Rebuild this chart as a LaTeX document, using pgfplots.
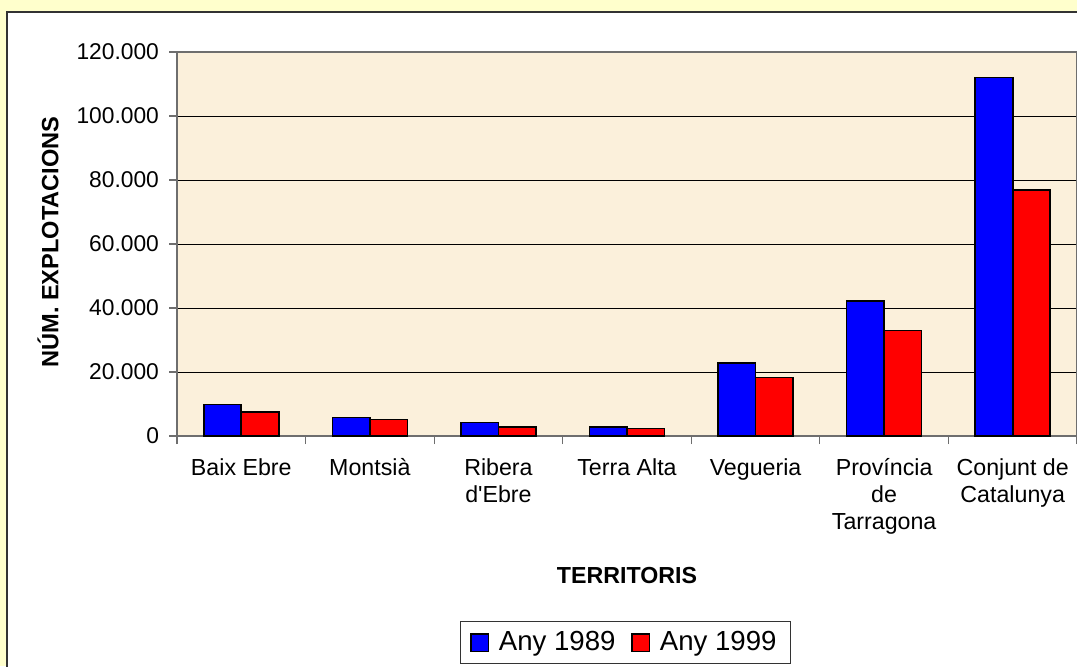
\documentclass[border=0pt]{standalone}
\usepackage{fontspec}
\setmainfont{Liberation Sans}
\usepackage{pgfplots}
\pgfplotsset{compat=1.18}

\definecolor{bgyellow}{RGB}{255,255,204}
\definecolor{plotbg}{RGB}{251,240,219}
\definecolor{framegray}{RGB}{110,110,110}
\definecolor{barblue}{RGB}{0,0,255}
\definecolor{barred}{RGB}{255,0,0}

\begin{document}
\begin{tikzpicture}
\useasboundingbox (0,0) rectangle (538.5pt,333pt);
\fill[bgyellow] (0,0) rectangle (538.5pt,333pt);
\begin{scope}
  \clip (0,0) rectangle (538.5pt,333pt);
  \draw[fill=white, draw=black!80, line width=1pt] (3.5pt,-20pt) rectangle (560pt,327pt);
\end{scope}

\begin{axis}[
    at={(88.5pt,115pt)}, anchor=south west,
    scale only axis, width=450pt, height=192pt,
    ybar=0pt, bar width=18.75pt,
    xmin=-0.5, xmax=6.5, ymin=0, ymax=120000,
    scaled y ticks=false,
    axis background/.style={fill=plotbg},
    axis line style={framegray, line width=0.6pt},
    ytick={0,20000,40000,60000,80000,100000,120000},
    yticklabels={0,20.000,40.000,60.000,80.000,100.000,120.000},
    xtick={0,...,6},
    xticklabels={Baix Ebre, Montsià, {Ribera\\d\textquotesingle Ebre}, Terra Alta, Vegueria,
                 {Província\\de\\Tarragona}, {Conjunt de\\Catalunya}},
    minor xtick={-0.5,0.5,...,6.5},
    major x tick style={draw=none},
    tick align=outside, tick pos=left,
    major tick length=4pt, minor tick length=4pt,
    tick style={framegray, line width=0.6pt},
    ymajorgrids, major grid style={black, line width=0.5pt},
    typeset ticklabels with strut,
    yticklabel style={font=\fontsize{11.4}{13.5}\selectfont, xshift=-1.5pt, yshift=-1pt},
    xticklabel style={font=\fontsize{11.6}{13.5}\selectfont, align=center, yshift=-3pt},
    xlabel={TERRITORIS},
    xlabel style={font=\fontsize{11.6}{13}\selectfont\bfseries,
                  at={(axis description cs:0.5,-0.363)}, anchor=center},
    ylabel={NÚM. EXPLOTACIONS},
    ylabel style={font=\fontsize{11.8}{13}\selectfont\bfseries,
                  at={(axis description cs:-0.1433,0.505)}, anchor=center},
    legend columns=2,
    legend style={at={(axis description cs:0.3144,-0.4818)}, anchor=north west,
                  draw=black!80, line width=0.5pt, fill=white,
                  font=\fontsize{13.8}{16}\selectfont,
                  inner xsep=5pt, inner ysep=3pt,
                  /tikz/every odd column/.append style={column sep=3pt},
                  /tikz/every even column/.append style={column sep=6pt}},
]
\addplot[fill=barblue, draw=black, line width=0.8pt,
    legend image code/.code={\draw[fill=barblue, draw=black, line width=0.6pt] (0pt,-4.3pt) rectangle (8.6pt,4.3pt);}]
    coordinates {(0,9800) (1,5800) (2,4200) (3,2800) (4,22900) (5,42200) (6,112000)};
\addplot[fill=barred, draw=black, line width=0.8pt,
    legend image code/.code={\draw[fill=barred, draw=black, line width=0.6pt] (0pt,-4.3pt) rectangle (8.6pt,4.3pt);}]
    coordinates {(0,7500) (1,5200) (2,2900) (3,2400) (4,18300) (5,33000) (6,76900)};
\legend{Any 1989, Any 1999}
\end{axis}
\end{tikzpicture}
\end{document}
